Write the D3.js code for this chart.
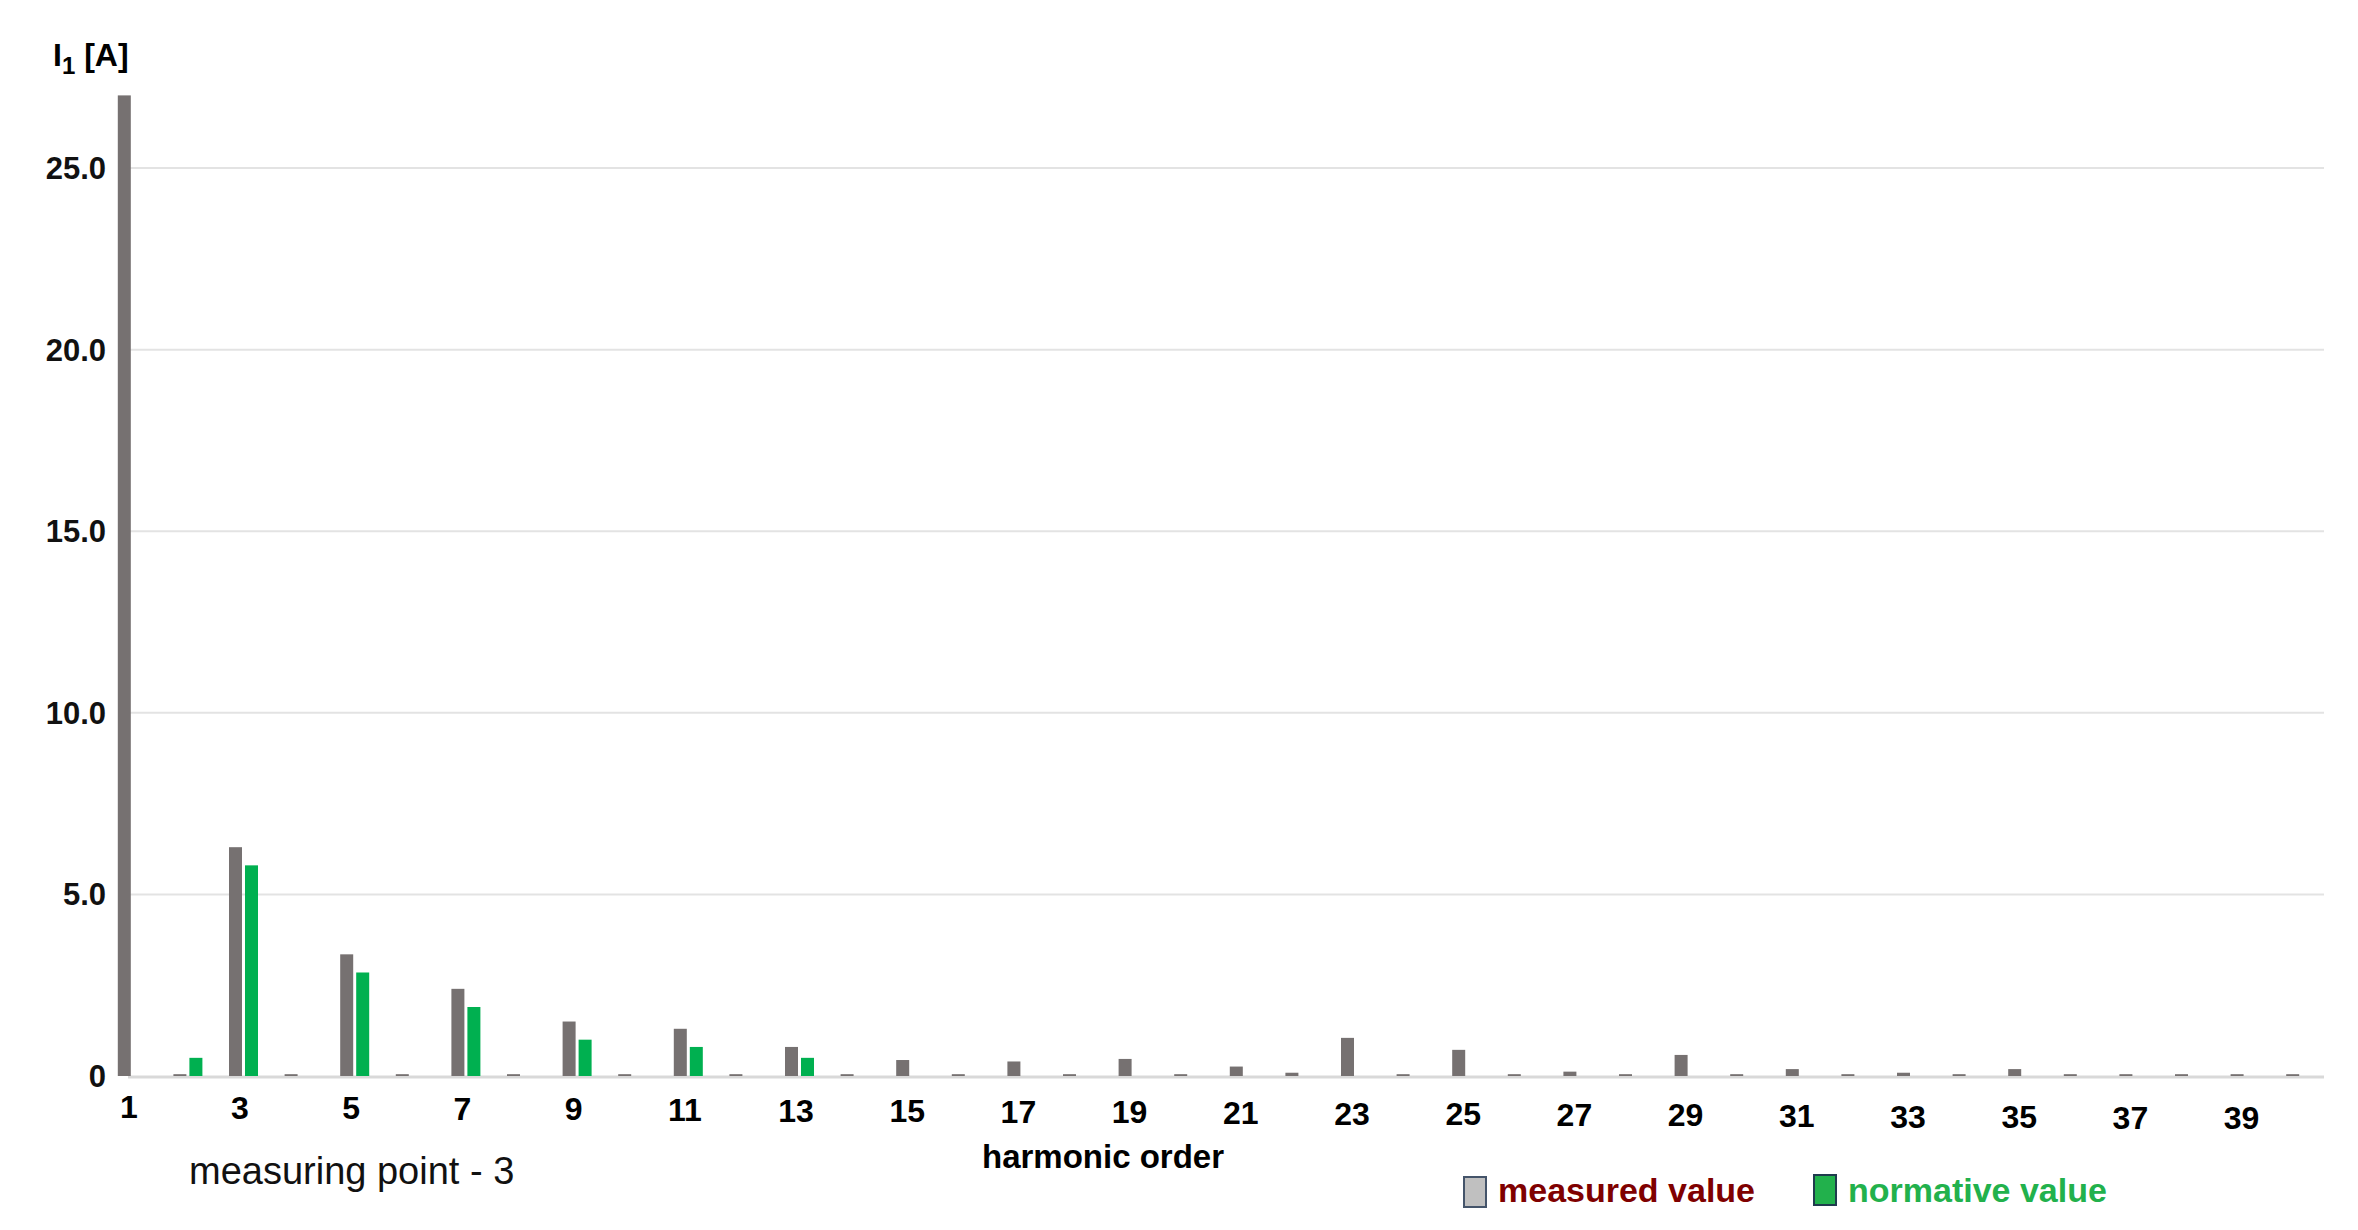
<!DOCTYPE html>
<html><head><meta charset="utf-8">
<script src="https://cdn.jsdelivr.net/npm/d3@7"></script>
<style>body{margin:0;background:#fff}svg{display:block}text{font-family:"Liberation Sans",Arial,sans-serif}</style>
</head><body>
<svg id="c" width="2358" height="1230"></svg>
<script>
const harmonics = d3.range(1, 41);
const measured = [27.0,0.05,6.3,0.05,3.35,0.05,2.4,0.05,1.5,0.05,1.3,0.05,0.8,0.05,0.44,0.05,0.4,0.05,0.47,0.05,0.26,0.09,1.05,0.05,0.72,0.05,0.12,0.05,0.58,0.05,0.19,0.05,0.09,0.05,0.19,0.05,0.05,0.05,0.05,0.05];
const normative = [0,0.5,5.8,0,2.85,0,1.9,0,1.0,0,0.8,0,0.5,0,0,0,0,0,0,0,0,0,0,0,0,0,0,0,0,0,0,0,0,0,0,0,0,0,0,0];
const yTicks = [0,5,10,15,20,25];
const xTickLabels = d3.range(1, 40, 2);

const svg = d3.select("#c");
const x = d3.scaleBand().domain(harmonics).range([105, 2329]);
const y = d3.scaleLinear().domain([0, 27.3]).range([1076, 84.5]);
const cx = h => x(h) + x.bandwidth()/2;

svg.append("g").selectAll("line").data(yTicks.slice(1)).join("line")
  .attr("x1",128).attr("x2",2324).attr("y1",d=>y(d)).attr("y2",d=>y(d))
  .attr("stroke","#e3e3e3").attr("stroke-width",2);
svg.append("line").attr("x1",128).attr("x2",2324).attr("y1",y(0)+1).attr("y2",y(0)+1)
  .attr("stroke","#d9d9d9").attr("stroke-width",3);

svg.append("g").selectAll("text").data(yTicks).join("text")
  .attr("x",106).attr("y",d=>y(d)+11).attr("text-anchor","end")
  .attr("font-size",31).attr("font-weight","bold").attr("fill","#111")
  .text(d=> d===0 ? "0" : d.toFixed(1));

svg.append("g").selectAll("rect").data(harmonics).join("rect")
  .attr("x",h=>cx(h)-15).attr("width",13)
  .attr("y",(h,i)=>y(measured[i])).attr("height",(h,i)=>y(0)-y(measured[i]))
  .attr("fill","#767171");
svg.append("g").selectAll("rect").data(harmonics).join("rect")
  .attr("x",h=>cx(h)+1).attr("width",13)
  .attr("y",(h,i)=>y(normative[i])).attr("height",(h,i)=>y(0)-y(normative[i]))
  .attr("fill","#00b050");

svg.append("g").selectAll("text").data(xTickLabels).join("text")
  .attr("x",h=>cx(h)-4).attr("y",(h,i)=>1118+i*0.6).attr("text-anchor","middle")
  .attr("font-size",32).attr("font-weight","bold").attr("fill","#000")
  .text(d=>d);

const t = svg.append("text").attr("x",53).attr("y",66).attr("font-size",32).attr("font-weight","bold").attr("fill","#000");
t.append("tspan").text("I");
t.append("tspan").attr("font-size",24).attr("dy",8).text("1");
t.append("tspan").attr("dy",-8).text(" [A]");

svg.append("text").attr("x",1103).attr("y",1168).attr("text-anchor","middle")
  .attr("font-size",33).attr("font-weight","bold").text("harmonic order");
svg.append("text").attr("x",189).attr("y",1184)
  .attr("font-size",38).attr("fill","#111").attr("font-family","'Open Sans',sans-serif").text("measuring point - 3");

svg.append("rect").attr("x",1464).attr("y",1177).attr("width",22).attr("height",30)
  .attr("fill","#c0c0c0").attr("stroke","#44546a").attr("stroke-width",2);
svg.append("text").attr("x",1498).attr("y",1202).attr("font-size",34).attr("font-weight","bold")
  .attr("fill","#7f0000").text("measured value");
svg.append("rect").attr("x",1814).attr("y",1175).attr("width",22).attr("height",30)
  .attr("fill","#22b14c").attr("stroke","#1f3b4d").attr("stroke-width",2);
svg.append("text").attr("x",1848).attr("y",1202).attr("font-size",34).attr("font-weight","bold")
  .attr("fill","#22b14c").text("normative value");
</script>
</body></html>
